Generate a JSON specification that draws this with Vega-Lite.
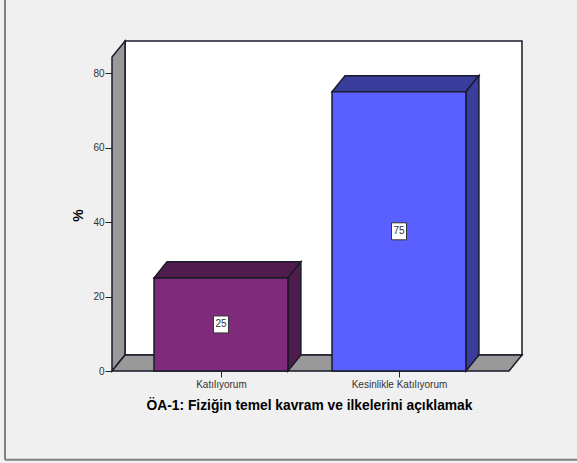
{
  "$schema": "https://vega.github.io/schema/vega-lite/v6.json",
  "width": 410,
  "height": 330,
  "autosize": "none",
  "padding": {"left": 112, "top": 41, "right": 55, "bottom": 92},
  "background": "#f0f0f0",
  "config": {"view": {"stroke": null}, "font": "Liberation Sans"},
  "datasets": {
    "bars": [
      {"category": "Katılıyorum", "pos": 1, "left": 0.624, "right": 1.376, "base": 0, "percent": 25, "mid": 12.5},
      {"category": "Kesinlikle Katılıyorum", "pos": 2, "left": 1.624, "right": 2.376, "base": 0, "percent": 75, "mid": 37.5}
    ],
    "faces": [
      {"face": "back", "x": 0.461, "low": 4.3, "high": 88.6},
      {"face": "back", "x": 2.691, "low": 4.3, "high": 88.6},
      {"face": "wall", "x": 0.388, "low": 0, "high": 84.3},
      {"face": "wall", "x": 0.461, "low": 4.3, "high": 88.6},
      {"face": "floor", "x": 0.388, "low": 0, "high": 0},
      {"face": "floor", "x": 0.461, "low": 0, "high": 4.3},
      {"face": "floor", "x": 2.618, "low": 0, "high": 4.3},
      {"face": "floor", "x": 2.691, "low": 4.3, "high": 4.3},
      {"face": "top1", "x": 0.624, "low": 25, "high": 25},
      {"face": "top1", "x": 0.697, "low": 25, "high": 29.3},
      {"face": "top1", "x": 1.376, "low": 25, "high": 29.3},
      {"face": "top1", "x": 1.449, "low": 29.3, "high": 29.3},
      {"face": "side1", "x": 1.376, "low": 0, "high": 25},
      {"face": "side1", "x": 1.449, "low": 4.3, "high": 29.3},
      {"face": "top2", "x": 1.624, "low": 75, "high": 75},
      {"face": "top2", "x": 1.697, "low": 75, "high": 79.3},
      {"face": "top2", "x": 2.376, "low": 75, "high": 79.3},
      {"face": "top2", "x": 2.449, "low": 79.3, "high": 79.3},
      {"face": "side2", "x": 2.376, "low": 0, "high": 75},
      {"face": "side2", "x": 2.449, "low": 4.3, "high": 79.3}
    ],
    "frame": [
      {"x": -0.213, "x2": -0.213, "y": 100, "y2": -23.8},
      {"x": -0.213, "x2": 3.0, "y": -23.8, "y2": -23.8}
    ]
  },
  "layer": [
    {
      "data": {"name": "frame"},
      "mark": {"type": "rule", "stroke": "#808080", "strokeWidth": 2, "clip": false},
      "encoding": {
        "x": {"field": "x", "type": "quantitative", "scale": {"domain": [0.388, 2.691], "nice": false, "zero": false},
          "axis": {"values": [1, 2], "labelExpr": "datum.value == 1 ? 'Katılıyorum' : 'Kesinlikle Katılıyorum'", "title": "ÖA-1: Fiziğin temel kavram ve ilkelerini açıklamak", "titleFontSize": 13.8, "titleFont": "Liberation Sans", "titleFontWeight": "bold", "titleColor": "#000", "titlePadding": 9, "titleX": 197, "labelFontSize": 10, "labelColor": "#333", "labelPadding": 2, "tickColor": "#222", "tickSize": 6, "domain": false, "grid": false, "labelFlush": false}},
        "x2": {"field": "x2"},
        "y": {"field": "y", "type": "quantitative", "scale": {"domain": [0, 88.6], "nice": false},
          "axis": {"values": [0, 20, 40, 60, 80], "title": "%", "titleFontSize": 14, "titleFontWeight": "bold", "titleColor": "#000", "titlePadding": 7, "titleY": 174, "labelFontSize": 10, "labelColor": "#333", "labelPadding": 1, "tickColor": "#222", "tickSize": 7, "domain": false, "grid": false}},
        "y2": {"field": "y2"}
      }
    },
    {
      "data": {"name": "faces"},
      "mark": {"type": "area", "stroke": "#1a1a2a", "strokeWidth": 1.5, "clip": false, "opacity": 1},
      "encoding": {
        "x": {"field": "x", "type": "quantitative"},
        "y": {"field": "low", "type": "quantitative"},
        "y2": {"field": "high"},
        "detail": {"field": "face"},
        "color": {"field": "face", "type": "nominal", "legend": null, "scale": {
          "domain": ["back", "wall", "floor", "top1", "side1", "top2", "side2"],
          "range": ["#ffffff", "#999999", "#999999", "#4f1c4d", "#4f1c4d", "#393e9c", "#393e9c"]}}
      }
    },
    {
      "data": {"name": "bars"},
      "mark": {"type": "rect", "stroke": "#1a1a2a", "strokeWidth": 1.5},
      "encoding": {
        "x": {"field": "left", "type": "quantitative"},
        "x2": {"field": "right"},
        "y": {"field": "percent", "type": "quantitative"},
        "y2": {"field": "base"},
        "color": {"field": "category", "type": "nominal", "legend": null, "scale": {"domain": ["Katılıyorum", "Kesinlikle Katılıyorum"], "range": ["#7f2a7a", "#5a60ff"]}}
      }
    },
    {
      "data": {"name": "bars"},
      "mark": {"type": "rect", "width": 15, "height": 17, "fill": "#ffffff", "stroke": "#333333", "strokeWidth": 1},
      "encoding": {
        "x": {"field": "pos", "type": "quantitative"},
        "y": {"field": "mid", "type": "quantitative"}
      }
    },
    {
      "data": {"name": "bars"},
      "mark": {"type": "text", "fontSize": 10, "fill": "#333333", "align": "center", "baseline": "middle"},
      "encoding": {
        "x": {"field": "pos", "type": "quantitative"},
        "y": {"field": "mid", "type": "quantitative"},
        "text": {"field": "percent", "type": "quantitative"}
      }
    }
  ],
  "resolve": {"scale": {"color": "independent"}}
}
